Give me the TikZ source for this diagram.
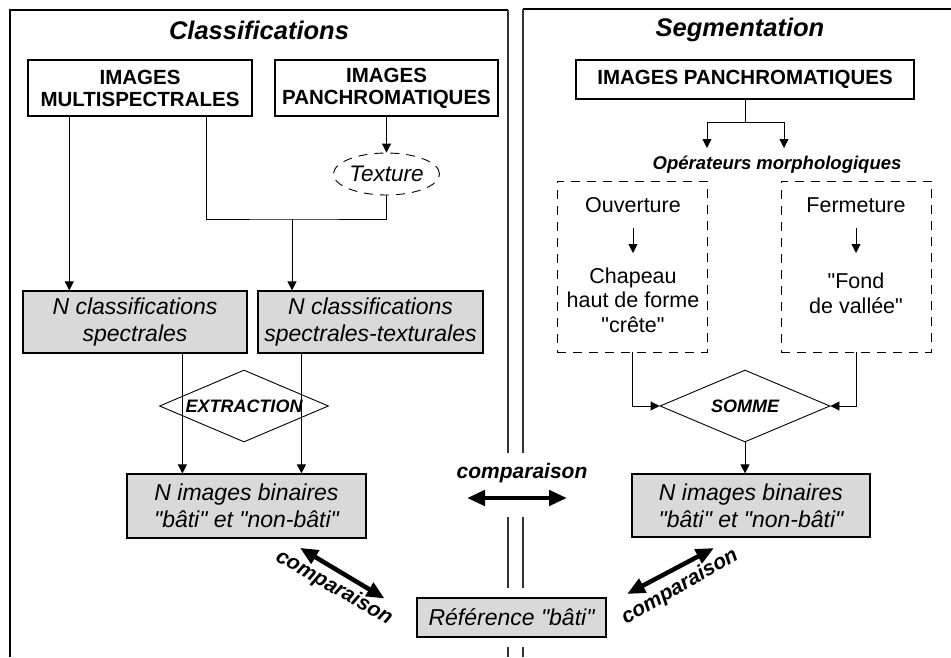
\documentclass[tikz,border=0pt]{standalone}
\usepackage{fontspec}
\setmainfont{Liberation Sans}[Ligatures=TeXOff]
\usetikzlibrary{shapes.geometric,arrows.meta,calc}
\definecolor{boxgray}{RGB}{217,217,217}
\begin{document}
\begin{tikzpicture}[x=1pt,y=-1pt,
  arr/.style={-{Triangle[length=9pt,width=9pt]}, line width=0.9pt},
  conn/.style={line width=0.9pt},
  hdrbox/.style={draw, line width=1.4pt, align=center, font=\fontsize{20.5}{22}\selectfont\bfseries, inner sep=0pt},
  graybox/.style={draw, fill=boxgray, line width=1.2pt, align=center, font=\fontsize{23}{27}\selectfont\itshape, inner sep=0pt},
  dashbox/.style={draw, dash pattern=on 9pt off 7pt, line width=0.9pt, inner sep=0pt},
  plain/.style={align=center, font=\fontsize{21.5}{24.5}\selectfont, inner sep=0pt},
  decision/.style={draw, diamond, aspect=2.35, line width=0.9pt, inner sep=0pt, font=\fontsize{18}{20}\selectfont\bfseries\itshape},
  ptitle/.style={font=\fontsize{25.5}{28}\selectfont\bfseries\itshape, inner sep=0pt},
  bigarr/.style={{Triangle[length=18pt,width=15pt]}-{Triangle[length=18pt,width=15pt]}, line width=4.5pt},
  cmp/.style={font=\fontsize{21}{24}\selectfont\bfseries\itshape, inner sep=0pt},
  frameline/.style={line width=1.4pt},
  midline/.style={line width=1.1pt, draw=black!80}
]
\useasboundingbox (0,0) rectangle (951,657);
% panel frames
\draw[frameline] (10,657) -- (10,10) -- (508,10);
\draw[frameline] (951,9) -- (523,9);
\draw[midline] (508,10) -- (508,453);
\draw[midline] (508,517) -- (508,588);
\draw[midline] (508,647) -- (508,657);
\draw[midline] (523,9) -- (523,453);
\draw[midline] (523,517) -- (523,588);
\draw[midline] (523,647) -- (523,657);

% titles
\node[ptitle] (t1) at (259,30) {Classifications};
\node[ptitle] (t2) at (740,30) {Segmentation};

% left panel
\node[hdrbox, minimum width=224pt, minimum height=56pt] (ms) at (140,88) {IMAGES\\MULTISPECTRALES};
\node[hdrbox, minimum width=223pt, minimum height=56pt] (pa) at (386.5,88) {IMAGES\\PANCHROMATIQUES};
\node[draw, ellipse, dash pattern=on 9pt off 7pt, line width=0.9pt, inner sep=0pt, minimum width=106pt, minimum height=42pt, font=\fontsize{22.5}{26}\selectfont\itshape] (tex) at (386.5,174) {Texture};
\node[graybox, minimum width=224pt, minimum height=62pt] (cs) at (135,322) {N classifications\\spectrales};
\node[graybox, minimum width=225pt, minimum height=62pt] (cst) at (370.5,322) {N classifications\\spectrales-texturales};
\node[graybox, minimum width=239pt, minimum height=64pt] (nb1) at (246.5,506) {N images binaires\\"bâti" et "non-bâti"};
\node[graybox, minimum width=189pt, minimum height=39pt] (ref) at (511.5,617.5) {Référence "bâti"};

\coordinate (m1) at ([xshift=42pt]ms.south west);
\coordinate (m2) at ([xshift=179pt]ms.south west);
\coordinate (j) at (292,219);
\draw[arr] (m1) -- (m1 |- cs.north);
\draw[conn] (m2) |- (j) -| (tex.south);
\draw[arr] (j) -- (j |- cst.north);
\draw[arr] (pa.south) -- (tex.north);

\coordinate (e1) at ([xshift=160pt]cs.south west);
\coordinate (e2) at ([xshift=44pt]cst.south west);
\draw[arr] (e1) -- (e1 |- nb1.north);
\draw[arr] (e2) -- (e2 |- nb1.north);
\node[decision, minimum width=169pt, minimum height=72pt] (ext) at (244,406) {EXTRACTION};

% right panel
\node[hdrbox, minimum width=338pt, minimum height=39pt] (pr) at (745,79.5) {IMAGES PANCHROMATIQUES};
\node[font=\fontsize{18.5}{21}\selectfont\bfseries\itshape, inner sep=0pt] (op) at (777,165) {Opérateurs morphologiques};
\node[dashbox, minimum width=150pt, minimum height=171pt] (dl) at (632,266.5) {};
\node[dashbox, minimum width=150pt, minimum height=171pt] (dr) at (856,266.5) {};
\node[plain] (ouv) at (633,205) {Ouverture};
\node[plain] (chap) at (633,300) {Chapeau\\haut de forme\\"crête"};
\node[plain] (ferm) at (856,205) {Fermeture};
\node[plain] (fond) at (856,293.5) {"Fond\\de vallée"};
\node[decision, minimum width=170pt, minimum height=72pt] (som) at (745,406) {SOMME};
\node[graybox, minimum width=238pt, minimum height=63pt] (nb2) at (751,505.5) {N images binaires\\"bâti" et "non-bâti"};

\coordinate (sp) at ([yshift=-23pt]pr.south);
\coordinate (o1) at (707,148);
\coordinate (o2) at (784,148);
\draw[conn] (pr.south) -- (sp);
\draw[arr] (sp) -| (o1);
\draw[arr] (sp) -| (o2);
\draw[arr] ([yshift=-23pt]ouv.center) -- ([yshift=-48pt]ouv.center);
\draw[arr] ([yshift=-23pt]ferm.center) -- ([yshift=-48pt]ferm.center);
\draw[arr] (dl.south) |- (som.west);
\draw[arr] (dr.south) |- (som.east);
\draw[arr] (som.south) -- (som.south |- nb2.north);

% comparisons
\coordinate (h1) at (467,498);
\coordinate (h2) at (567,498);
\draw[bigarr] (h1) -- (h2);
\node[cmp] (c0) at (522,473) {comparaison};
\draw[bigarr, shorten <=18pt, shorten >=37pt] ([xshift=38pt]nb1.south) -- (ref.west);
\node[cmp, rotate=-30] (c1) at (334,588) {comparaison};
\coordinate (r1) at (714,548);
\coordinate (r2) at (627,594);
\draw[bigarr] (r1) -- (r2);
\node[cmp, rotate=30] (c2) at (680,587) {comparaison};
\end{tikzpicture}
\end{document}
